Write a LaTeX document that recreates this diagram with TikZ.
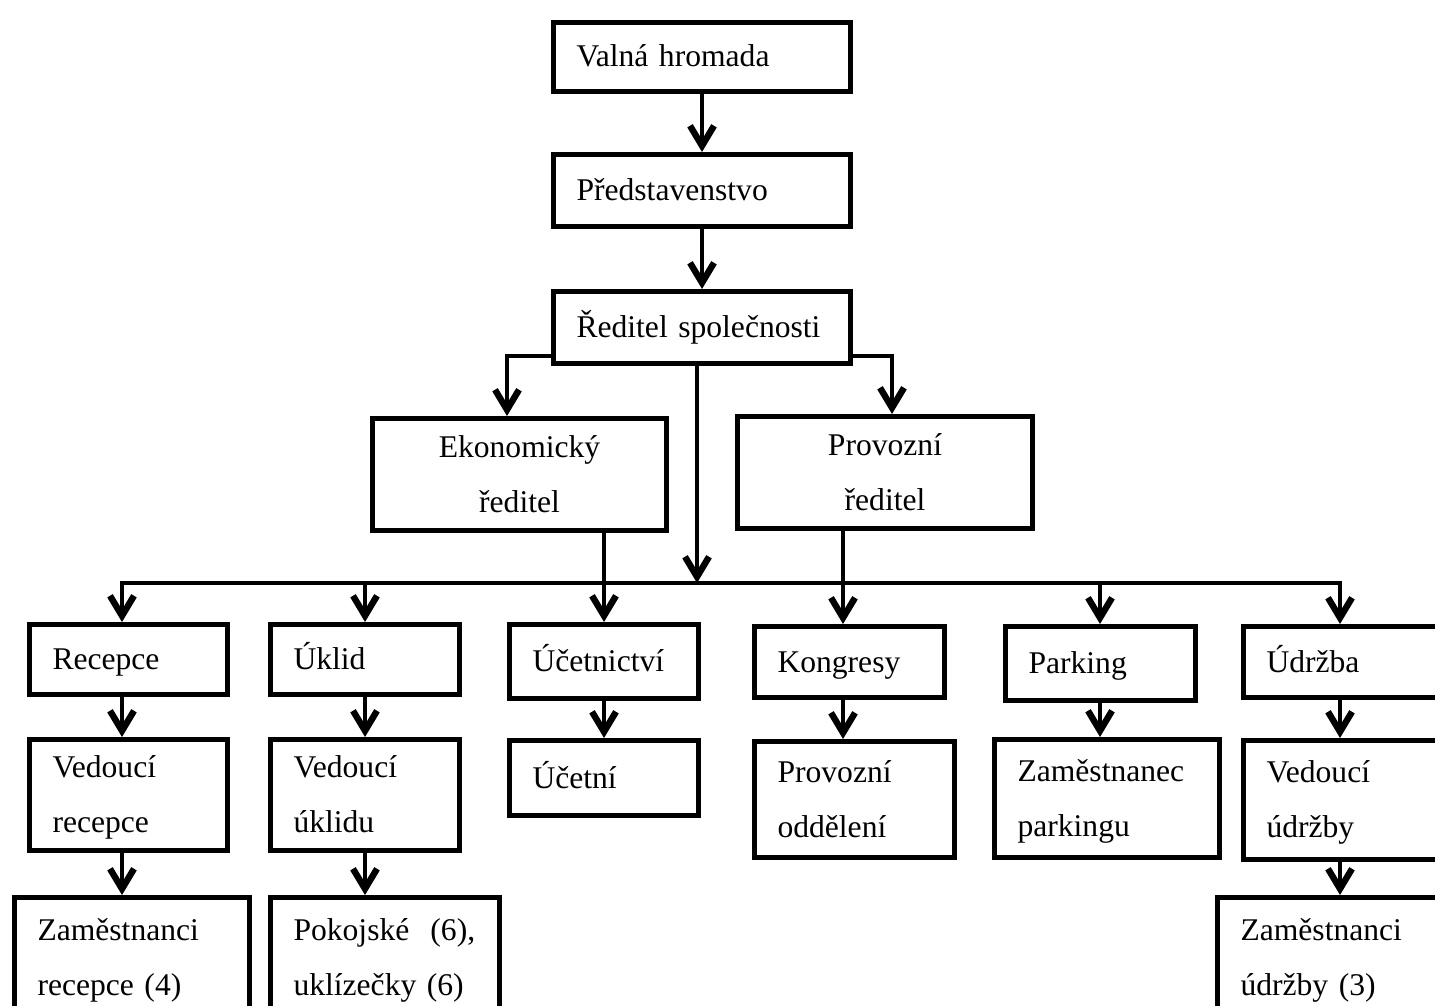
\documentclass[tikz,border=0pt]{standalone}
\usepackage{fontspec}
\setmainfont{Liberation Serif}
\usetikzlibrary{arrows.meta}
\tikzset{
  box/.style={draw, line width=2.5pt, anchor=north west, align=left, inner xsep=11.5pt, inner ysep=0pt, text width=#1, font=\fontsize{15.8}{27.5}\selectfont,
    execute at begin node={\rule{0pt}{15pt}}, execute at end node={\rule[-5pt]{0pt}{5pt}}},
  link/.style={line width=2.4pt, line cap=rect},
  arr/.style={line width=2.4pt, -{Straight Barb[length=10pt,width=12pt,line width=3.2pt]}},
}
\begin{document}
\begin{tikzpicture}[x=0.5pt,y=0.5pt,yscale=-1,xscale=1]
\useasboundingbox (0,0) rectangle (1435,1006);
\clip (0,0) rectangle (1435,1006);

% columns of the connectors
\coordinate (c1) at (122,0);
\coordinate (c2) at (365,0);
\coordinate (c3) at (604,0);
\coordinate (c4) at (843,0);
\coordinate (c5) at (1100,0);
\coordinate (c6) at (1340,0);
\coordinate (ekx) at (507,0);
\coordinate (prx) at (892,0);
\coordinate (midx) at (697,0);
\coordinate (busL) at (122,583);
\coordinate (busR) at (1340,583);

% top
\node[box=125.5pt, minimum height=34.5pt] (valna) at (551,20) {Valná hromada};
\node[box=125.5pt, minimum height=36pt] (pred) at (551,152) {Představenstvo};
\node[box=125.5pt, minimum height=36pt] (reditel) at (551,289) {Ředitel společnosti};

% directors
\node[box=124pt, minimum height=56pt, align=center] (ekon) at (370,416) {Ekonomický\\ředitel};
\node[box=124.5pt, minimum height=56pt, align=center] (prov) at (735,414) {Provozní\\ředitel};

% departments
\node[box=76pt, minimum height=35pt] (recepce) at (27,622) {Recepce};
\node[box=71.5pt, minimum height=35pt] (uklid) at (268,622) {Úklid};
\node[box=71.5pt, minimum height=37pt] (ucetnictvi) at (507,622) {Účetnictví};
\node[box=72pt, minimum height=35.5pt] (kongresy) at (752,624) {Kongresy};
\node[box=72pt, minimum height=37pt] (parking) at (1003,624) {Parking};
\node[box=82pt, minimum height=35.5pt] (udrzba) at (1241,624) {Údržba};

% heads
\node[box=76pt, minimum height=55.5pt] (vedrec) at (27,737) {Vedoucí\\recepce};
\node[box=71.5pt, minimum height=55.5pt] (veduk) at (268,737) {Vedoucí\\úklidu};
\node[box=71.5pt, minimum height=37.5pt] (ucetni) at (507,738) {Účetní};
\node[box=77pt, minimum height=58pt] (provodd) at (752,739) {Provozní\\oddělení};
\node[box=89.5pt, minimum height=59pt] (zampark) at (992,737) {Zaměstnanec\\parkingu};
\node[box=82pt, minimum height=59.5pt] (vedudr) at (1241,738) {Vedoucí\\údržby};

% staff
\node[box=94.5pt, minimum height=60pt] (zamrec) at (12,895) {Zaměstnanci\\recepce (4)};
\node[box=91.5pt, minimum height=60pt] (pokoj) at (268,895) {Pokojské~~(6),\\uklízečky (6)};
\node[box=94.5pt, minimum height=60pt] (zamudr) at (1215,895) {Zaměstnanci\\údržby (3)};

% connectors
\draw[arr] (valna) -- (pred);
\draw[arr] (pred) -- (reditel);
\draw[arr] ([yshift=-5pt]reditel.south west) -| (ekon.north -| ekx);
\draw[arr] ([yshift=-5pt]reditel.south east) -| (prov.north -| prx);
\draw[arr] (reditel.south -| midx) -- (busL -| midx);
\draw[link] (busL) -- (busR);
\foreach \c/\n in {c1/recepce, c2/uklid, c5/parking, c6/udrzba}
  \draw[arr] (busL -| \c) -- (\n.north -| \c);
\draw[arr] (ekon.south -| c3) -- (ucetnictvi.north -| c3);
\draw[arr] (prov.south -| c4) -- (kongresy.north -| c4);
\foreach \c/\a/\b in {c1/recepce/vedrec, c2/uklid/veduk, c3/ucetnictvi/ucetni, c4/kongresy/provodd, c5/parking/zampark, c6/udrzba/vedudr}
  \draw[arr] (\a.south -| \c) -- (\b.north -| \c);
\foreach \c/\a/\b in {c1/vedrec/zamrec, c2/veduk/pokoj, c6/vedudr/zamudr}
  \draw[arr] (\a.south -| \c) -- (\b.north -| \c);

\end{tikzpicture}
\end{document}
